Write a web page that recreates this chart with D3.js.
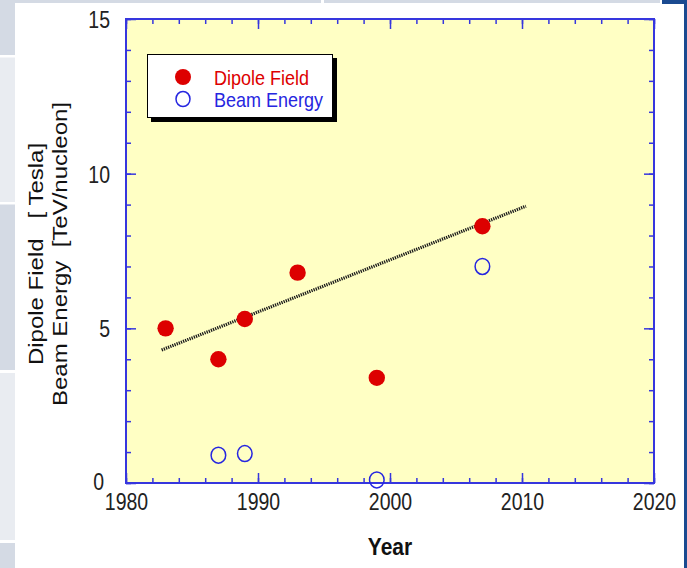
<!DOCTYPE html>
<html>
<head>
<meta charset="utf-8">
<script src="https://cdn.jsdelivr.net/npm/d3@7"></script>
<style>
  html, body { margin: 0; padding: 0; background: #ffffff; }
  svg { display: block; font-family: "Liberation Sans", Arial, Helvetica, sans-serif; }
</style>
</head>
<body>
<svg id="chart" width="687" height="568"></svg>
<script>
// ---- data ----
const dipoleYears = [1983, 1987, 1989, 1993, 1999, 2007];
const dipoleField = [5.0, 4.0, 5.3, 6.8, 3.4, 8.3];
const beamYears = [1987, 1989, 1999, 2007];
const beamEnergy = [0.9, 0.95, 0.1, 7.0];
const trendYears = [1982.7, 2010.3];
const trendValues = [4.3, 8.95];
const xTickLabels = [1980, 1990, 2000, 2010, 2020];
const yTickLabels = [0, 5, 10, 15];
const seriesNames = ["Dipole Field", "Beam Energy"];

const svg = d3.select("#chart");
const STRETCH = 1.2; // text in the reference is drawn slightly tall

// page decoration (slide background)
const deco = svg.append("g");
[[0, 55, "#d4dae4"], [57.5, 202, "#e9ecf1"], [204.5, 370, "#d4dae4"], [373, 540, "#e9ecf1"], [543, 568, "#d4dae4"]]
  .forEach(([a, b, c]) => deco.append("rect").attr("x", 0).attr("y", a).attr("width", 15).attr("height", b - a).attr("fill", c));
deco.append("rect").attr("x", 15).attr("y", 0).attr("width", 306).attr("height", 3).attr("fill", "#d4dae4");
deco.append("rect").attr("x", 324).attr("y", 0).attr("width", 336).attr("height", 3).attr("fill", "#d4dae4");
deco.append("rect").attr("x", 662).attr("y", 0).attr("width", 25).attr("height", 4).attr("fill", "#1a4a90");
deco.append("rect").attr("x", 684).attr("y", 0).attr("width", 3).attr("height", 568).attr("fill", "#1a4a90");

// ---- scales ----
const x = d3.scaleLinear().domain([1980, 2020]).range([126, 654]);
const y = d3.scaleLinear().domain([0, 15]).range([483, 19]);

const frameColor = "#3636de";

// plot background
svg.append("rect")
  .attr("x", x(1980)).attr("y", y(15))
  .attr("width", x(2020) - x(1980)).attr("height", y(0) - y(15))
  .attr("fill", "#ffffc4");

function styleAxis(g) {
  g.selectAll("path.domain").remove();
  g.selectAll(".tick line").attr("stroke", frameColor).attr("stroke-width", 1.5);
  g.selectAll(".tick text").attr("fill", "#222").style("font-size", "19.5px");
}

const minorX = d3.range(1980, 2021, 2);
const minorY = d3.range(0, 16, 1);

// bottom
svg.append("g").attr("transform", `translate(0,${y(0)})`)
  .call(d3.axisBottom(x).tickValues(minorX).tickSize(-5).tickFormat(""))
  .call(styleAxis);
svg.append("g").attr("transform", `translate(0,${y(0)})`)
  .call(d3.axisBottom(x).tickValues(xTickLabels).tickSize(-10).tickFormat(d3.format("d")))
  .call(styleAxis)
  .call(g => g.selectAll(".tick text").attr("y", 0).attr("dy", 0)
    .attr("transform", `translate(0,27) scale(1,${STRETCH})`));
// top
svg.append("g").attr("transform", `translate(0,${y(15)})`)
  .call(d3.axisTop(x).tickValues(minorX).tickSize(-5).tickFormat(""))
  .call(styleAxis);
svg.append("g").attr("transform", `translate(0,${y(15)})`)
  .call(d3.axisTop(x).tickValues(xTickLabels).tickSize(-10).tickFormat(""))
  .call(styleAxis);
// left
svg.append("g").attr("transform", `translate(${x(1980)},0)`)
  .call(d3.axisLeft(y).tickValues(minorY).tickSize(-5).tickFormat(""))
  .call(styleAxis);
svg.append("g").attr("transform", `translate(${x(1980)},0)`)
  .call(d3.axisLeft(y).tickValues(yTickLabels).tickSize(-10).tickPadding(16).tickFormat(d3.format("d")))
  .call(styleAxis)
  .call(g => g.selectAll(".tick text").attr("dy", 0)
    .attr("x", d => d === 0 ? -22 : -16)
    .attr("transform", d => `translate(0,${d === 0 ? 6.5 : 8.4}) scale(1,${STRETCH})`));
// right
svg.append("g").attr("transform", `translate(${x(2020)},0)`)
  .call(d3.axisRight(y).tickValues(minorY).tickSize(-5).tickFormat(""))
  .call(styleAxis);
svg.append("g").attr("transform", `translate(${x(2020)},0)`)
  .call(d3.axisRight(y).tickValues(yTickLabels).tickSize(-10).tickFormat(""))
  .call(styleAxis);

// frame
svg.append("rect")
  .attr("x", x(1980)).attr("y", y(15))
  .attr("width", x(2020) - x(1980)).attr("height", y(0) - y(15))
  .attr("fill", "none").attr("stroke", frameColor).attr("stroke-width", 2);

// trend line
const trend = trendYears.map((t, i) => [t, trendValues[i]]);
svg.append("path")
  .attr("d", d3.line().x(d => x(d[0])).y(d => y(d[1]))(trend))
  .attr("stroke", "#1a1a1a").attr("stroke-width", 3.2)
  .attr("stroke-dasharray", "1.3,1").attr("fill", "none");

// dipole points
svg.append("g").selectAll("circle")
  .data(dipoleYears.map((t, i) => [t, dipoleField[i]]))
  .join("circle")
  .attr("cx", d => x(d[0])).attr("cy", d => y(d[1])).attr("r", 8.2)
  .attr("fill", "#dd0000");

// beam energy points
svg.append("g").selectAll("ellipse")
  .data(beamYears.map((t, i) => [t, beamEnergy[i]]))
  .join("ellipse")
  .attr("cx", d => x(d[0])).attr("cy", d => y(d[1]))
  .attr("rx", 7.3).attr("ry", 8)
  .attr("fill", "none").attr("stroke", "#2626e0").attr("stroke-width", 1.5);

// legend
const lg = svg.append("g");
lg.append("rect").attr("x", 151).attr("y", 58).attr("width", 186).attr("height", 64).attr("fill", "#000");
lg.append("rect").attr("x", 147.5).attr("y", 54.5).attr("width", 185).attr("height", 63)
  .attr("fill", "#fff").attr("stroke", "#000").attr("stroke-width", 1);
lg.append("circle").attr("cx", 183).attr("cy", 77).attr("r", 8).attr("fill", "#dd0000");
lg.append("ellipse").attr("cx", 183).attr("cy", 99).attr("rx", 7).attr("ry", 7.6)
  .attr("fill", "none").attr("stroke", "#2626e0").attr("stroke-width", 1.5);
lg.append("text").attr("transform", `translate(214,84.5) scale(1,1.15)`).attr("fill", "#dd0000")
  .style("font-size", "18px").text(seriesNames[0]);
lg.append("text").attr("transform", `translate(214,106.5) scale(1,1.15)`).attr("fill", "#2626e0")
  .style("font-size", "18px").text(seriesNames[1]);

// axis titles
svg.append("text").attr("transform", "translate(390,555) scale(1,1.15)")
  .attr("text-anchor", "middle").style("font-size", "21px").style("font-weight", "bold")
  .attr("fill", "#111").text("Year");

const yt = svg.append("text").attr("transform", `translate(0,254) rotate(-90) scale(${STRETCH},1)`)
  .attr("text-anchor", "middle").attr("fill", "#111").style("font-size", "20px")
  .attr("xml:space", "preserve").style("white-space", "pre");
yt.append("tspan").attr("x", 0).attr("y", 43).text("Dipole Field   [ Tesla]");
yt.append("tspan").attr("x", 0).attr("y", 67).text("Beam Energy  [TeV/nucleon]");
</script>
</body>
</html>
